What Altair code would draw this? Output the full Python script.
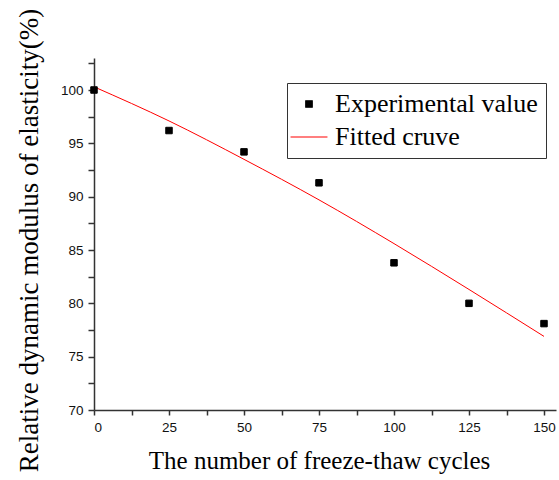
import altair as alt
import pandas as pd

# ---- data ----
cycles = [0, 25, 50, 75, 100, 125, 150]
experimental = [100.0, 96.2, 94.2, 91.3, 83.8, 80.0, 78.1]
fit_cycles = [0, 25, 50, 75, 100, 125, 150]
fitted = [100.3, 97.1, 93.5, 89.7, 85.6, 81.3, 76.9]
series_names = ["Experimental value", "Fitted cruve"]

x_ticks = [0, 12.5, 25, 37.5, 50, 62.5, 75, 87.5, 100, 112.5, 125, 137.5, 150]
y_ticks = [70, 72.5, 75, 77.5, 80, 82.5, 85, 87.5, 90, 92.5, 95, 97.5, 100, 102.5]

exp_df = pd.DataFrame({"cycles": cycles, "value": experimental, "series": series_names[0]})
fit_df = pd.DataFrame({"cycles": fit_cycles, "value": fitted, "series": series_names[1]})

xscale = alt.Scale(domain=[0, 154], nice=False, zero=False)
yscale = alt.Scale(domain=[70, 103], nice=False, zero=False)

legend = alt.Legend(
    title=None, orient="none", legendX=193, legendY=25,
    strokeColor="#333333", padding=8, rowPadding=6,
    labelFont="Liberation Serif", labelFontSize=26, labelColor="#000000",
    labelOffset=12, labelLimit=0, symbolStrokeWidth=1.2,
)

shape_enc = alt.Shape("series:N", scale=alt.Scale(domain=series_names, range=["square", "M-1.42,0H1.42"]), legend=legend)
fill_enc = alt.Fill("series:N", scale=alt.Scale(domain=series_names, range=["#000000", "#ff0000"]), legend=legend)
stroke_enc = alt.Stroke("series:N", scale=alt.Scale(domain=series_names, range=["#000000", "#ff0000"]), legend=legend)
size_enc = alt.Size("series:N", scale=alt.Scale(domain=series_names, range=[42, 676]), legend=legend)

x_axis = alt.Axis(
    orient="bottom", values=x_ticks, ticks=True, tickSize=5,
    labelExpr="datum.value % 25 == 0 ? datum.label : ''",
    labelPadding=5, format="d",
    title="The number of freeze-thaw cycles", titleX=225, titleY=58,
    titleAlign="center", titleBaseline="alphabetic",
)
y_axis = alt.Axis(
    orient="left", values=y_ticks, ticks=True, tickSize=6,
    labelExpr="datum.value % 5 == 0 ? datum.label : ''",
    labelPadding=5, format="d",
    title="Relative dynamic modulus of elasticity(%)", titleX=-57, titleY=182,
    titleAngle=270, titleAlign="center", titleBaseline="alphabetic",
)

points = alt.Chart(exp_df).mark_point(filled=True, strokeWidth=1, opacity=1).encode(
    x=alt.X("cycles:Q", scale=xscale, axis=x_axis),
    y=alt.Y("value:Q", scale=yscale, axis=y_axis),
    shape=shape_enc, fill=fill_enc, stroke=stroke_enc, size=size_enc,
)

line = alt.Chart(fit_df).mark_line(strokeWidth=1, interpolate="monotone").encode(
    x=alt.X("cycles:Q", scale=xscale, axis=x_axis),
    y=alt.Y("value:Q", scale=yscale, axis=y_axis),
    stroke=stroke_enc,
)

chart = (
    alt.layer(line, points)
    .properties(
        width=462, height=352,
        autosize=alt.AutoSizeParams(type="none"),
        padding={"left": 94, "top": 58, "right": 3, "bottom": 70},
        background="#ffffff",
    )
    .configure_view(stroke=None)
    .configure_axis(
        grid=False, domainColor="#333333", domainWidth=1.5,
        tickColor="#333333", tickWidth=1.5,
        labelFont="Liberation Sans", labelFontSize=13.5, labelColor="#111111",
        titleFont="Liberation Serif", titleFontSize=25, titleFontWeight="normal",
        titleColor="#000000",
    )
    .configure_axisLeft(titleFontSize=27)
)

chart.save("out.html", embed_options={"renderer": "svg", "actions": False})
